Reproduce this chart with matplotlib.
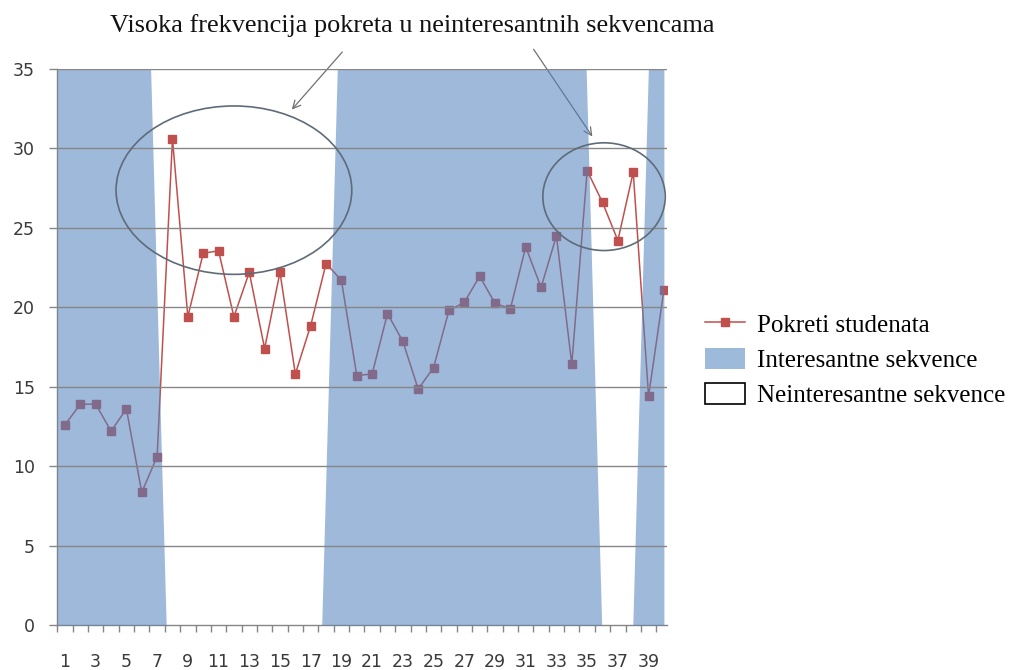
import numpy as np
import matplotlib
matplotlib.use("Agg")
import matplotlib.pyplot as plt
from matplotlib.lines import Line2D
from matplotlib.patches import Patch, Ellipse

# podaci
kategorije = np.arange(1, 41)
pokreti = [12.6, 13.9, 13.9, 12.2, 13.6, 8.35, 10.6, 30.6, 19.4, 23.4,
           23.55, 19.4, 22.2, 17.4, 22.2, 15.8, 18.85, 22.75, 21.7, 15.7,
           15.8, 19.6, 17.85, 14.85, 16.2, 19.8, 20.3, 21.95, 20.25, 19.9,
           23.8, 21.25, 24.5, 16.4, 28.6, 26.6, 24.2, 28.5, 14.4, 21.1]
interesantne = [35, 35, 35, 35, 35, 35, 35, 0, 0, 0,
                0, 0, 0, 0, 0, 0, 0, 0, 35, 35,
                35, 35, 35, 35, 35, 35, 35, 35, 35, 35,
                35, 35, 35, 35, 35, 0, 0, 0, 35, 35]
x_oznake = list(range(1, 41, 2))
y_oznake = [0, 5, 10, 15, 20, 25, 30, 35]

naslov = "Visoka frekvencija pokreta u neinteresantnih sekvencama"
legenda = ["Pokreti studenata", "Interesantne sekvence", "Neinteresantne sekvence"]

RED = "#C0504D"
BLUE = "#4F81BD"
GRID = "#868686"
SERIF = "Liberation Serif"

fig = plt.figure(figsize=(10.14, 6.70), dpi=100)
ax = fig.add_axes([0.0565, 0.0672, 0.6013, 0.8299])

# linija
ax.plot(kategorije, pokreti, color=RED, linewidth=1.1, marker="s",
        markersize=5.5, markerfacecolor=RED, markeredgecolor=RED, zorder=2)
ax.set_xlim(0.5, 40.2)
ax.set_ylim(0, 35)
ax.set_xticks(x_oznake)
ax.set_xticklabels([str(v) for v in x_oznake])
ax.set_xticks(np.arange(0.5, 40, 1), minor=True)
ax.tick_params(axis="x", which="major", length=0, pad=20, labelsize=12.5,
               labelcolor="#3a3a3a")
ax.tick_params(axis="x", which="minor", length=5, width=1, color=GRID,
               direction="out")
ax.set_yticks(y_oznake)
ax.tick_params(axis="y", length=6, width=1, color=GRID, pad=10,
               labelsize=12.5, labelcolor="#3a3a3a")
for s in ["top", "right"]:
    ax.spines[s].set_visible(False)
for s in ["left", "bottom"]:
    ax.spines[s].set_color(GRID)
    ax.spines[s].set_linewidth(1)

# povrsina (sekvence), crtano preko linije
ax2 = ax.twiny()
ax2.fill_between(kategorije, interesantne, color=BLUE, alpha=0.55,
                 linewidth=0, zorder=1)
ax2.set_xlim(1, 40.2)
ax2.set_ylim(0, 35)
ax2.set_xticks([])
for s in ax2.spines.values():
    s.set_visible(False)
for v in y_oznake[1:]:
    ax2.axhline(v, color=GRID, linewidth=1, zorder=2)

# elipse
for (cx, cy, w, h) in [(12.0, 27.37, 15.35, 10.6), (36.1, 26.96, 7.97, 6.78)]:
    el = Ellipse((cx, cy), w, h, fill=False, edgecolor="#5f6b78",
                 linewidth=1.2, zorder=5)
    el.set_transform(ax.transData)
    fig.add_artist(el)

# naslov i strelice
fig.text(0.4068, 0.9527, naslov, ha="center", va="baseline",
         fontsize=18.9, family=SERIF, color="#111111")
for (xt, yt, xh, yh) in [(0.3393, 0.9254, 15.65, 32.31),
                         (0.5247, 0.9299, 35.44, 30.6)]:
    ax.annotate("", xy=(xh, yh), xycoords=ax.transData,
                xytext=(xt, yt), textcoords="figure fraction",
                arrowprops=dict(arrowstyle="->", color="#707070", lw=0.9,
                                mutation_scale=14),
                annotation_clip=False)

# legenda
handles = [Line2D([], [], color=RED, linewidth=1.1, marker="s",
                  markersize=5.5),
           Patch(facecolor="#9EBADB", edgecolor="none"),
           Patch(facecolor="white", edgecolor="black", linewidth=1.2)]
fig.legend(handles, legenda, loc="center left",
           bbox_to_anchor=(0.695, 0.4627), frameon=False,
           prop={"family": SERIF, "size": 18}, handlelength=1.6,
           handleheight=0.9, handletextpad=0.5, labelspacing=0.45,
           borderpad=0, borderaxespad=0)

fig.savefig("out.png", dpi=100)
